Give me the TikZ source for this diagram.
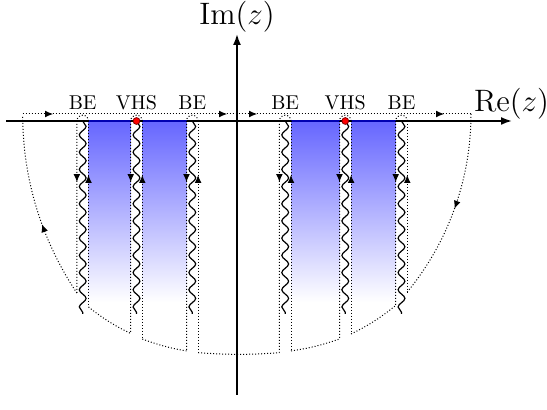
\documentclass[tikz,border=0pt]{standalone}
\usepackage{fix-cm}
\usepackage{tikz}
\usetikzlibrary{arrows.meta,decorations.pathmorphing,decorations.markings}

\begin{document}
\begin{tikzpicture}[
    x=0.5pt, y=-0.5pt,
    >={Latex[length=4pt,width=3.4pt]},
    axis/.style={line width=0.9pt, -{Latex[length=5.5pt,width=4pt]}},
    contour/.style={densely dotted, line width=0.5pt},
    downflow/.style={postaction={decorate}, decoration={markings, mark=at position 39.6pt with {\arrow{>}}}},
    upflow/.style={postaction={decorate}, decoration={markings, mark=at position 27pt with {\arrowreversed{>}}}},
    branchcut/.style={line width=0.6pt, decorate, decoration={snake, amplitude=1.7pt, segment length=8.6pt}},
    bandfill/.style={top color=blue!60, bottom color=white},
    bandtop/.style={line width=0.9pt, blue!70!black},
    vhsdot/.style={circle, fill=red, draw=red!50!black, inner sep=0pt, minimum size=3.4pt},
    lbl/.style={anchor=base},
    axlabel/.style={font=\fontsize{15.5}{18}\selectfont}
]
\useasboundingbox (0,0) rectangle (547,410);

% Shaded bands
\shade[bandfill] (88.5,121) rectangle (130.7,302);
\shade[bandfill] (142.3,121) rectangle (186.5,302);
\shade[bandfill] (291,121) rectangle (339.5,302);
\shade[bandfill] (351.1,121) rectangle (395.7,302);

% Axes
\draw[axis] (6,121) -- (512,121);
\draw[axis] (237,395) -- (237,34);
\node[axlabel, anchor=base west] (re) at (467,112) {$\mathrm{Re}(z)$};
\node[axlabel, anchor=base] (im) at (237,25) {$\mathrm{Im}(z)$};

% Band tops on the real axis
\draw[bandtop] (88.5,121) -- (130.7,121);
\draw[bandtop] (142.3,121) -- (186.5,121);
\draw[bandtop] (291,121) -- (339.5,121);
\draw[bandtop] (351.1,121) -- (395.7,121);

% Contour: upper line and outer arcs
\draw[contour, postaction={decorate}, decoration={markings,
    mark=at position 15.2pt with {\arrow{>}},
    mark=at position 102.2pt with {\arrow{>}},
    mark=at position 117.2pt with {\arrow{>}},
    mark=at position 210.7pt with {\arrow{>}}}] (22.7,114) -- (471,114);
\draw[contour, postaction={decorate}, decoration={markings, mark=at position 0.41 with {\arrow{>}}}]
  (76.9,293) arc[start angle=146.1, end angle=180, radius=318.9];
\draw[contour, postaction={decorate}, decoration={markings, mark=at position 0.5 with {\arrow{>}}}]
  (471,114) arc[start angle=0, end angle=39.5, radius=280.5];

% Cut 1 (BE)
\draw[branchcut] (82.7,121) -- (82.7,314);
\draw[contour, downflow] (88.5,121) arc[start angle=0, end angle=-180, radius=5.8] -- (76.9,293);
\draw[contour, upflow] (88.5,121) -- (88.5,307);
% Cut 2 (VHS)
\draw[branchcut] (136.5,121) -- (136.5,314);
\draw[contour, downflow] (142.3,121) arc[start angle=0, end angle=-180, radius=5.8] -- (130.7,333.5);
\draw[contour, upflow] (142.3,121) -- (142.3,339);
% Cut 3 (BE)
\draw[branchcut] (192.3,121) -- (192.3,314);
\draw[contour, downflow] (198.1,121) arc[start angle=0, end angle=-180, radius=5.8] -- (186.5,351);
\draw[contour, upflow] (198.1,121) -- (198.1,352.7);
% Cut 4 (BE)
\draw[branchcut] (285.2,121) -- (285.2,314);
\draw[contour, downflow] (291,121) arc[start angle=0, end angle=-180, radius=5.8] -- (279.4,352.7);
\draw[contour, upflow] (291,121) -- (291,351);
% Cut 5 (VHS)
\draw[branchcut] (345.3,121) -- (345.3,314);
\draw[contour, downflow] (351.1,121) arc[start angle=0, end angle=-180, radius=5.8] -- (339.5,339);
\draw[contour, upflow] (351.1,121) -- (351.1,334);
% Cut 6 (BE)
\draw[branchcut] (401.5,121) -- (401.5,314);
\draw[contour, downflow] (407.3,121) arc[start angle=0, end angle=-180, radius=5.8] -- (395.7,305.5);
\draw[contour, upflow] (407.3,121) -- (407.3,294);

% Contour: lower arcs between the cuts
\draw[contour] (88.5,307) to[bend right=6] (130.7,333.5);
\draw[contour] (142.3,339) to[bend right=5] (186.5,351);
\draw[contour] (198.1,352.7) to[bend right=4] (279.4,352.7);
\draw[contour] (291,351) to[bend right=5] (339.5,339);
\draw[contour] (351.1,334) to[bend right=6] (395.7,305.5);

% Van Hove points
\node[vhsdot] (v1) at (136.5,121) {};
\node[vhsdot] (v2) at (345.3,121) {};

% Labels
\node[lbl] (be1) at (82.7,109.5) {BE};
\node[lbl] (vhs1) at (136.5,109.5) {VHS};
\node[lbl] (be2) at (192.3,109.5) {BE};
\node[lbl] (be3) at (285.2,109.5) {BE};
\node[lbl] (vhs2) at (345.3,109.5) {VHS};
\node[lbl] (be4) at (401.5,109.5) {BE};

\end{tikzpicture}
\end{document}
